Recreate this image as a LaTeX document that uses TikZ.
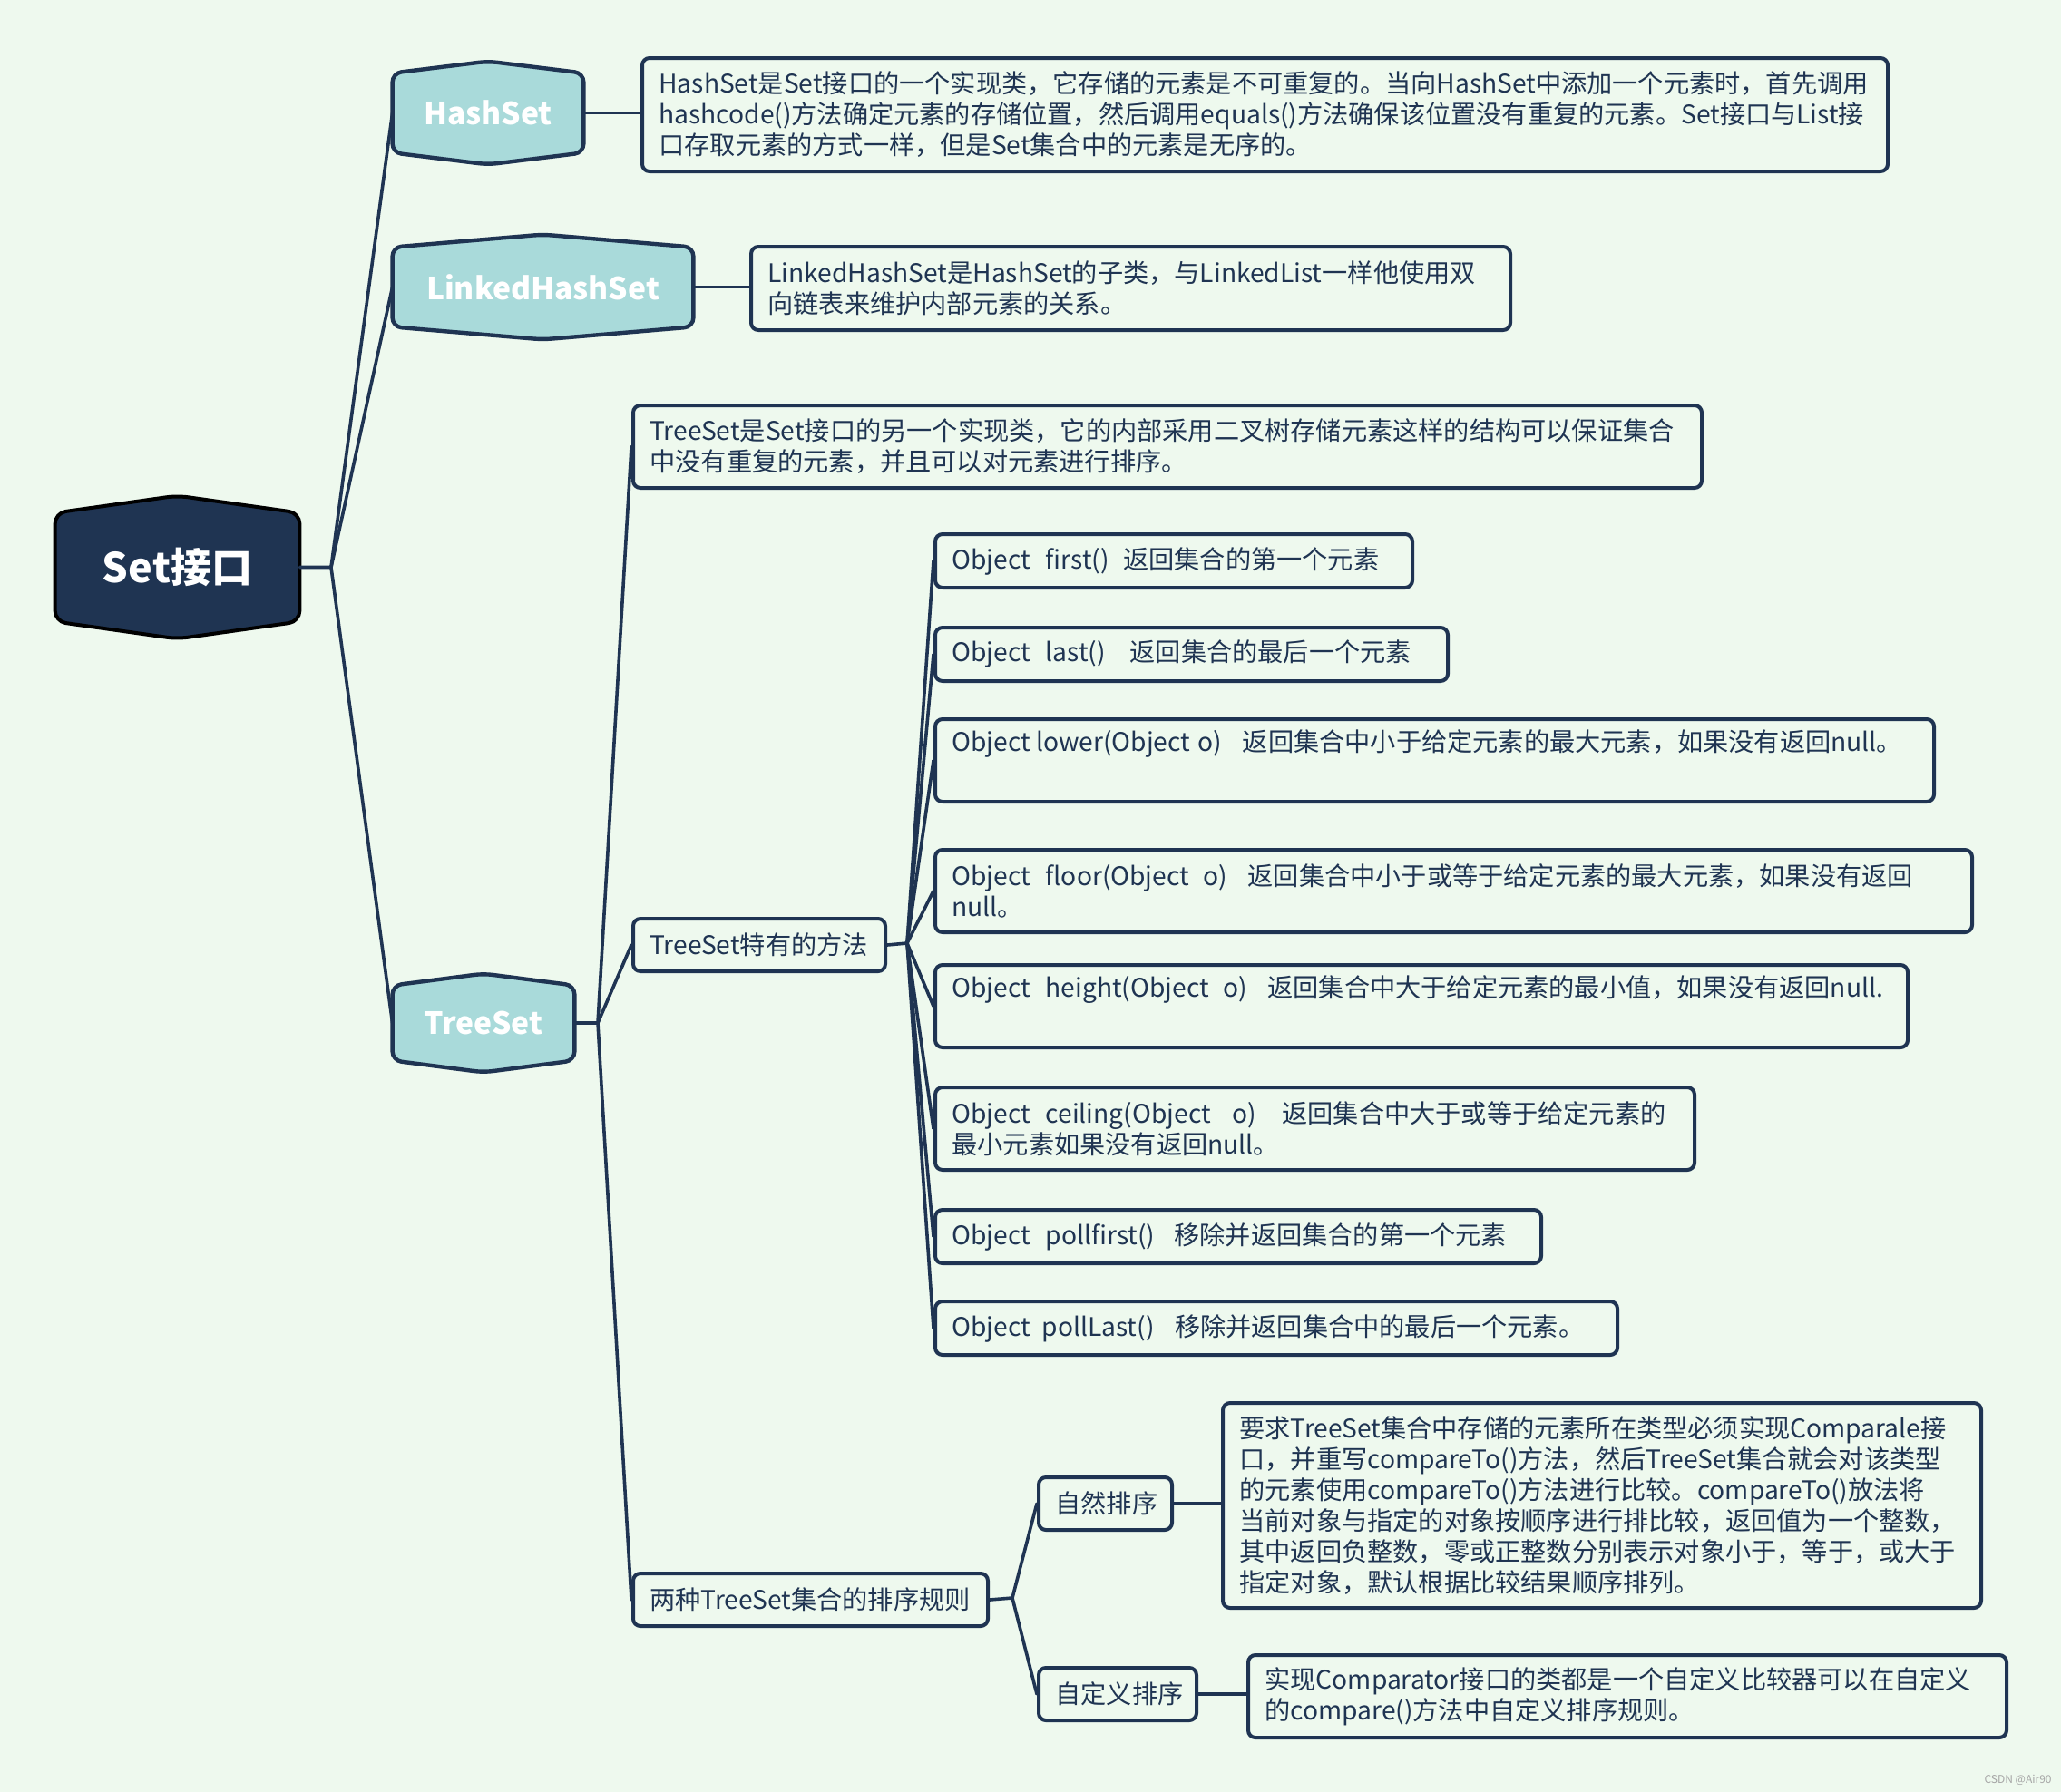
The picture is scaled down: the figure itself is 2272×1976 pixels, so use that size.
\documentclass[tikz,border=0pt]{standalone}
\usepackage{fontspec}
\setmainfont{Noto Sans CJK SC}
\usetikzlibrary{calc}
\definecolor{bgc}{HTML}{EEF9EE}
\definecolor{navy}{HTML}{1F3452}
\definecolor{tealf}{HTML}{A9DADA}
\pgfdeclarelayer{bg}
\pgfsetlayers{bg,main}
\newcommand\gapx[1]{\hspace{#1em}}
\newcommand\hexa[3]{\draw[#3] ($(#1.north west)+(0pt,-#2)$) -- (#1.north) -- ($(#1.north east)+(0pt,-#2)$) -- ($(#1.south east)+(0pt,#2)$) -- (#1.south) -- ($(#1.south west)+(0pt,#2)$) -- cycle;}
\begin{document}
\begin{tikzpicture}[x=0.5pt,y=-0.5pt,
  title/.style={inner sep=0pt, text=white, font=\bfseries\fontsize{16.8}{20}\selectfont},
  bx/.style n args={2}{draw=navy, line width=2pt, rounded corners=4pt, inner sep=0pt, anchor=north west, minimum width=#1, minimum height=#2},
  txt/.style={anchor=west, align=left, inner sep=0pt, text=navy, font=\fontsize{14.1}{17}\selectfont},
  conn/.style={draw=navy, line width=1.8pt, line join=round, line cap=round},
  hexst/.style={fill=tealf, draw=navy, line width=2.2pt, rounded corners=5pt}
]
\useasboundingbox (0,0) rectangle (2272,1976);

% title nodes
\node[title, font=\bfseries\fontsize{22.5}{26}\selectfont, minimum width=134.5pt, minimum height=78.5pt] (root) at (195.5,625.5) {Set接口};
\node[title, minimum width=105pt, minimum height=56.5pt] (hs) at (538,124.5) {HashSet};
\node[title, minimum width=165.5pt, minimum height=57.5pt] (lhs) at (598.5,316.5) {LinkedHashSet};
\node[title, minimum width=100pt, minimum height=54pt] (ts) at (533,1128) {TreeSet};

% boxes
\node[bx={686.5pt}{62.5pt}] (hsd) at (706,62) {};
\node[bx={418.5pt}{46pt}] (lhsd) at (826,270) {};
\node[bx={589pt}{45.5pt}] (tsd) at (696,445) {};
\node[bx={139pt}{29pt}] (tsm) at (696,1011) {};
\node[bx={263pt}{29.5pt}] (m1) at (1029,587) {};
\node[bx={282.5pt}{29.5pt}] (m2) at (1029,690) {};
\node[bx={550.5pt}{45.5pt}] (m3) at (1029,791) {};
\node[bx={571.5pt}{45.5pt}] (m4) at (1029,935) {};
\node[bx={536pt}{45.5pt}] (m5) at (1029,1062) {};
\node[bx={418.5pt}{45.5pt}] (m6) at (1029,1197) {};
\node[bx={334pt}{29.5pt}] (m7) at (1029,1332) {};
\node[bx={376pt}{29.5pt}] (m8) at (1029,1433) {};
\node[bx={195.5pt}{29pt}] (two) at (696,1733) {};
\node[bx={73.5pt}{29pt}] (nat) at (1143,1627) {};
\node[bx={418pt}{113pt}] (natd) at (1346,1545) {};
\node[bx={87pt}{29pt}] (cus) at (1143,1837) {};
\node[bx={418pt}{45.5pt}] (cusd) at (1374,1823) {};

% texts
\node[txt] (hsdT) at ([xshift=10pt]hsd.west) {HashSet是Set接口的一个实现类，它存储的元素是不可重复的。当向HashSet中添加一个元素时，首先调用\\hashcode()方法确定元素的存储位置，然后调用equals()方法确保该位置没有重复的元素。Set接口与List接\\口存取元素的方式一样，但是Set集合中的元素是无序的。};
\node[txt] (lhsdT) at ([xshift=10pt]lhsd.west) {LinkedHashSet是HashSet的子类，与LinkedList一样他使用双\\向链表来维护内部元素的关系。};
\node[txt] (tsdT) at ([xshift=10pt]tsd.west) {TreeSet是Set接口的另一个实现类，它的内部采用二叉树存储元素这样的结构可以保证集合\\中没有重复的元素，并且可以对元素进行排序。};
\node[txt] (tsmT) at ([xshift=10pt]tsm.west) {TreeSet特有的方法};
\node[txt] (m1T) at ([xshift=10pt]m1.west) {Object\gapx{.6}first()\gapx{.55}返回集合的第一个元素};
\node[txt] (m2T) at ([xshift=10pt]m2.west) {Object\gapx{.6}last()\gapx{.95}返回集合的最后一个元素};
\node[txt] (m3T) at ([xshift=10pt]m3.west) {Object lower(Object\gapx{.3}o)\gapx{.8}返回集合中小于给定元素的最大元素，如果没有返回null。\\\strut};
\node[txt] (m4T) at ([xshift=10pt]m4.west) {Object\gapx{.6}floor(Object\gapx{.55}o)\gapx{.8}返回集合中小于或等于给定元素的最大元素，如果没有返回\\null。};
\node[txt] (m5T) at ([xshift=10pt]m5.west) {Object\gapx{.6}height(Object\gapx{.55}o)\gapx{.8}返回集合中大于给定元素的最小值，如果没有返回null.\\\strut};
\node[txt] (m6T) at ([xshift=10pt]m6.west) {Object\gapx{.6}ceiling(Object\gapx{.85}o)\gapx{1}返回集合中大于或等于给定元素的\\最小元素如果没有返回null。};
\node[txt] (m7T) at ([xshift=10pt]m7.west) {Object\gapx{.6}pollfirst()\gapx{.75}移除并返回集合的第一个元素};
\node[txt] (m8T) at ([xshift=10pt]m8.west) {Object\gapx{.45}pollLast()\gapx{.8}移除并返回集合中的最后一个元素。};
\node[txt] (twoT) at ([xshift=10pt]two.west) {两种TreeSet集合的排序规则};
\node[txt] (natT) at ([xshift=10pt]nat.west) {自然排序};
\node[txt] (natdT) at ([xshift=10pt]natd.west) {要求TreeSet集合中存储的元素所在类型必须实现Comparale接\\口，并重写compareTo()方法，然后TreeSet集合就会对该类型\\的元素使用compareTo()方法进行比较。compareTo()放法将\\当前对象与指定的对象按顺序进行排比较，返回值为一个整数，\\其中返回负整数，零或正整数分别表示对象小于，等于，或大于\\指定对象，默认根据比较结果顺序排列。};
\node[txt] (cusT) at ([xshift=10pt]cus.west) {自定义排序};
\node[txt] (cusdT) at ([xshift=10pt]cusd.west) {实现Comparator接口的类都是一个自定义比较器可以在自定义\\的compare()方法中自定义排序规则。};

\node[anchor=east, inner sep=0pt, text=gray!70, font=\fontsize{6}{7}\selectfont] (wm) at (2262,1963) {CSDN @Air90};

% junctions
\coordinate (jr) at (365,625.5);
\coordinate (jt) at (659,1128);
\coordinate (jm) at (1000,1040);
\coordinate (js) at (1116,1762);

% connectors
\draw[conn] (root.east) -- (jr) -- (hs.west);
\draw[conn] (jr) -- (lhs.west);
\draw[conn] (jr) -- (ts.west);
\draw[conn] (hs.east) -- (hs.east -| hsd.west);
\draw[conn] (lhs.east) -- (lhs.east -| lhsd.west);
\draw[conn] (ts.east) -- (jt) -- (tsd.west);
\draw[conn] (jt) -- (tsm.west);
\draw[conn] (jt) -- (two.west);
\draw[conn] (tsm.east) -- (jm);
\foreach \m in {m1,m2,m3,m4,m5,m6,m7,m8} {\draw[conn] (jm) -- (\m.west);}
\draw[conn] (two.east) -- (js) -- (nat.west);
\draw[conn] (js) -- (cus.west);
\draw[conn] (nat.east) -- (nat.east -| natd.west);
\draw[conn] (cus.east) -- (cus.east -| cusd.west);

\begin{pgfonlayer}{bg}
\fill[bgc] (0,0) rectangle (2272,1976);
\hexa{root}{9.5pt}{fill=navy, draw=black, line width=2pt, rounded corners=6pt}
\hexa{hs}{6.5pt}{hexst}
\hexa{lhs}{7pt}{hexst}
\hexa{ts}{6.5pt}{hexst}
\end{pgfonlayer}
\end{tikzpicture}
\end{document}
